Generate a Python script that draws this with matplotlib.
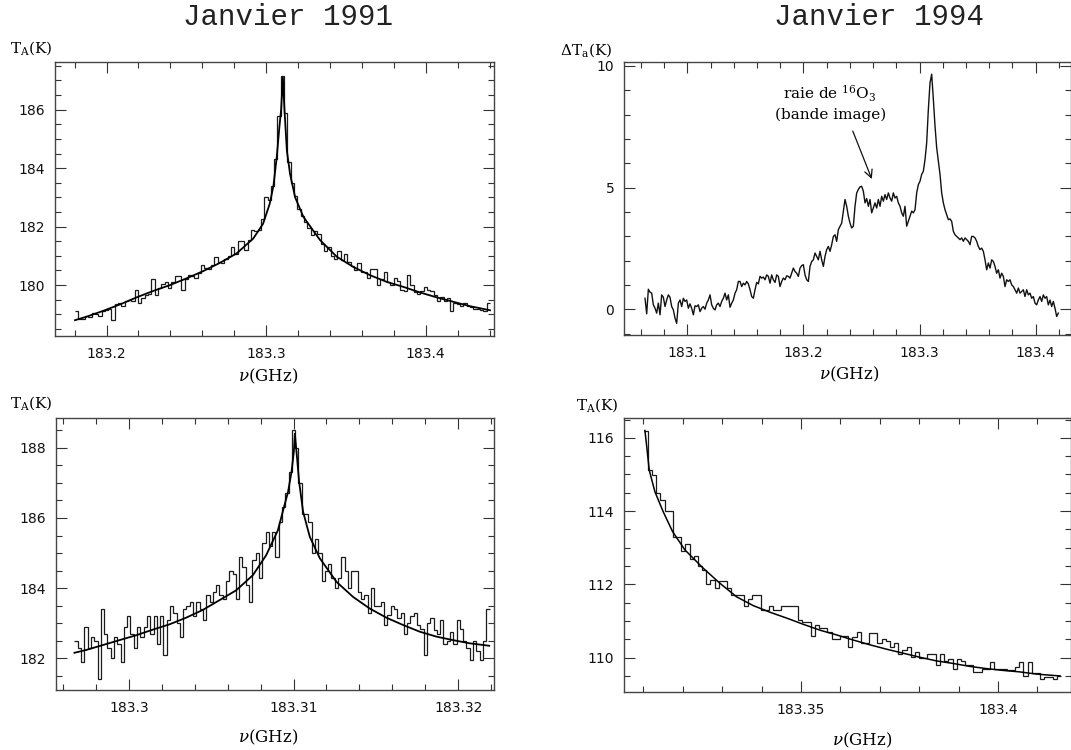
import numpy as np
import matplotlib
matplotlib.use("Agg")
import matplotlib.pyplot as plt
from matplotlib.ticker import MultipleLocator, FuncFormatter

plt.rcParams['font.family'] = 'DejaVu Serif'
plt.rcParams['mathtext.fontset'] = 'dejavuserif'

# ---- Janvier 1991, large band (step spectrum + fit) ----
tl_edges_range = (183.1802, 183.4403)
tl_values = [
    179.1, 178.85, 178.85, 178.95, 178.9, 179.05, 179.0, 178.95, 179.1, 179.15,
    179.2, 178.8, 179.35, 179.4, 179.3, 179.45, 179.5, 179.45, 179.85, 179.4,
    179.55, 179.65, 179.7, 180.2, 179.65, 179.9, 180.05, 180.1, 179.9, 180.1,
    180.3, 180.3, 179.85, 180.2, 180.35, 180.3, 180.25, 180.4, 180.7, 180.6,
    180.55, 180.7, 180.95, 180.8, 180.75, 180.9, 181.0, 181.3, 181.05, 181.5,
    181.5, 181.2, 181.55, 181.9, 181.85, 181.9, 182.25, 183.0, 182.9, 183.4,
    184.3, 185.8, 187.15, 185.9, 184.2, 183.5, 183.05, 182.6, 182.35, 182.15,
    181.95, 181.7, 181.85, 181.75, 181.4, 181.15, 181.3, 181.0, 180.9, 181.15,
    180.85, 181.05, 180.8, 180.65, 180.5, 180.75, 180.45, 180.45, 180.25, 180.55,
    180.55, 180.0, 180.2, 180.45, 180.1, 180.0, 180.25, 180.15, 179.85, 179.8,
    180.35, 180.0, 179.75, 179.7, 179.8, 179.95, 179.85, 179.8, 179.65, 179.45,
    179.6, 179.45, 179.55, 179.1, 179.4, 179.35, 179.3, 179.4, 179.3, 179.25,
    179.2, 179.2, 179.15, 179.1, 179.4,
]
tl_fit_freq = [183.1802, 183.1875, 183.1979, 183.2084, 183.2188, 183.2292, 183.2397,
               183.2501, 183.2606, 183.2710, 183.2814, 183.2919, 183.2981, 183.3023,
               183.3046, 183.3067, 183.3083, 183.3094, 183.3105, 183.3115, 183.3130,
               183.3150, 183.3182, 183.3234, 183.3338, 183.3443, 183.3547, 183.3651,
               183.3756, 183.3860, 183.3964, 183.4069, 183.4173, 183.4277, 183.4403]
tl_fit_temp = [178.80, 178.92, 179.12, 179.34, 179.58, 179.80, 180.0,
               180.23, 180.48, 180.76, 181.08, 181.59, 182.10, 182.79,
               183.4, 184.4, 185.4, 186.0, 187.1, 186.0, 184.6,
               183.8, 183.0, 182.33, 181.54, 180.97, 180.62, 180.34,
               180.11, 179.94, 179.75, 179.58, 179.43, 179.28, 179.14]

# ---- Janvier 1994, difference spectrum ----
tr_freq_range = (183.0636, 183.4195)
tr_values_a = [
    0.45, -0.19, 0.82, 0.70, 0.66, 0.18, 0.04, -0.16, 0.25, -0.23,
    0.59, 0.49, 0.11, 0.38, 0.59, 0.49, 0.11, -0.03, -0.37, -0.58,
    0.25, 0.38, 0.11, 0.45, 0.32, 0.38, 0.04, 0.22, 0.04, -0.23,
    0.14, 0.11, 0.18, -0.10, 0.04, 0.11, 0.00, 0.25, 0.38, 0.59,
    0.18, 0.04, -0.03, 0.18, 0.25, 0.11, 0.32, 0.45, 0.66, 0.38,
    0.59, 0.08, 0.25, 0.38, 0.66, 0.80, 1.14, 1.14, 0.93, 1.07,
    1.00, 1.14, 1.04, 0.80, 0.52, 0.45, 0.80, 1.10, 1.04, 1.35,
    1.28, 1.32, 1.21, 1.41, 1.35, 1.07, 1.41, 1.21, 1.10, 1.41,
    1.35, 0.93, 1.14, 1.28, 1.21, 1.37, 1.35, 1.28, 1.48, 1.69,
    1.55, 1.48, 1.35, 1.69, 1.79, 1.83, 1.41, 1.21, 1.14, 1.76,
    1.96, 2.03, 2.31, 2.17, 2.03, 2.38, 2.03, 1.76, 2.17, 2.45,
    2.58, 2.38, 2.65, 2.99, 3.06, 2.79, 3.27,
]
tr_values_b = [
    3.41, 3.54, 4.03, 4.51, 4.23, 3.82, 3.54, 3.34, 3.41, 4.23,
    4.78, 4.92, 5.03, 5.05, 4.85, 4.37, 4.55, 4.23, 4.51, 3.96,
    4.16, 4.37, 4.16, 4.51, 4.23, 4.64, 4.44, 4.71, 4.51, 4.78,
    4.57, 4.44, 4.78, 4.57, 4.64, 4.37, 4.23, 3.96, 3.82, 4.23,
    3.41, 3.61, 3.82, 4.03, 3.96, 4.09, 4.78, 5.12, 5.26, 5.54,
    5.67, 6.15, 6.84, 8.21, 9.3, 9.66, 8.63, 7.53, 6.64, 6.09,
    5.54, 4.78, 4.37, 4.09, 3.89, 3.68, 3.71, 3.61, 3.20, 3.06,
    2.99, 2.93, 2.86, 2.93, 2.79, 2.93, 2.86, 2.79, 2.65, 2.99,
    2.99, 2.93, 2.79, 2.58, 2.45, 2.51, 2.38, 2.03, 1.62, 1.90,
    1.69, 2.03, 1.96, 1.76, 1.48, 1.62, 1.28, 1.48, 1.35, 0.93,
    1.21, 1.14, 1.21, 1.00, 0.93, 0.80, 0.66, 0.87, 0.66, 0.73,
    0.80, 0.52, 0.80, 0.59, 0.66, 0.45, 0.52, 0.25, 0.18, 0.38,
    0.52, 0.32, 0.59, 0.45, 0.52, 0.18, 0.38, 0.11, 0.32, 0.04,
    -0.30, -0.16,
]

# ---- Janvier 1991, narrow band ----
bl_edges_range = (183.2967, 183.3219)
bl_values = [
    182.5, 182.3, 181.9, 182.9, 182.3, 182.6, 182.5, 181.4, 183.4, 182.7,
    182.3, 182.0, 182.6, 182.4, 181.9, 182.9, 183.2, 182.7, 182.3, 182.9,
    182.6, 182.9, 183.2, 182.7, 183.2, 182.4, 183.2, 182.1, 183.1, 183.5,
    183.3, 183.0, 182.6, 183.4, 183.5, 183.6, 183.2, 183.6, 183.4, 183.1,
    183.8, 183.6, 183.9, 184.1, 183.8, 183.7, 184.2, 184.5, 184.4, 183.7,
    184.9, 184.6, 184.1, 183.6, 184.8, 185.0, 184.3, 185.3, 185.6, 185.2,
    185.6, 184.9, 185.9, 186.3, 186.7, 187.3, 188.5, 188.0, 187.0, 186.1,
    186.1, 185.9, 185.0, 185.4, 185.0, 184.2, 184.5, 184.7, 184.3, 184.0,
    184.3, 184.9, 184.5, 184.0, 184.5, 184.5, 183.9, 183.7, 183.8, 183.3,
    184.0, 183.5, 183.5, 183.6, 182.95, 183.25, 183.5, 183.4, 183.15, 183.3,
    182.7, 183.0, 183.2, 183.3, 182.95, 182.85, 182.1, 183.0, 183.15, 182.8,
    182.7, 183.1, 182.4, 182.5, 182.75, 182.4, 183.1, 182.85, 182.5, 182.3,
    181.95, 182.5, 182.2, 181.95, 182.5, 183.4,
]
bl_fit_freq = [183.29670, 183.29741, 183.29842, 183.29943, 183.30045, 183.30146,
               183.30247, 183.30348, 183.30449, 183.30551, 183.30652, 183.30753,
               183.30834, 183.30905, 183.30937, 183.30967, 183.30988, 183.31002,
               183.31008, 183.31018, 183.31034, 183.31058, 183.31099, 183.31160,
               183.31261, 183.31362, 183.31463, 183.31564, 183.31666, 183.31767,
               183.31868, 183.31969, 183.32070, 183.32188]
bl_fit_temp = [182.16, 182.24, 182.38, 182.52, 182.66, 182.82,
               182.97, 183.16, 183.38, 183.66, 183.94, 184.37,
               184.94, 185.65, 186.22, 186.75, 187.32, 187.89,
               188.40, 187.89, 187.03, 186.18, 185.46, 184.85,
               184.18, 183.75, 183.42, 183.16, 182.95, 182.76,
               182.62, 182.52, 182.43, 182.36]

# ---- Janvier 1994, wing ----
br_edges_range = (183.3101, 183.4160)
br_values = [
    116.2, 115.12, 114.98, 114.5, 114.3, 114.0, 114.0, 113.3, 113.3, 112.9,
    113.1, 112.7, 112.78, 112.5, 112.4, 112.0, 112.13, 111.9, 112.1, 112.1,
    111.9, 111.7, 111.7, 111.7, 111.4, 111.6, 111.7, 111.7, 111.3, 111.3,
    111.4, 111.3, 111.3, 111.4, 111.4, 111.4, 111.4, 111.03, 110.98, 110.98,
    110.6, 110.9, 110.8, 110.8, 110.7, 110.5, 110.5, 110.6, 110.6, 110.3,
    110.55, 110.7, 110.4, 110.4, 110.67, 110.67, 110.4, 110.5, 110.45, 110.28,
    110.4, 110.1, 110.2, 110.3, 110.03, 110.16, 110.0, 110.0, 110.1, 110.1,
    109.8, 110.1, 109.9, 109.95, 109.7, 109.96, 109.9, 109.8, 109.8, 109.6,
    109.6, 109.7, 109.7, 109.87, 109.7, 109.7, 109.7, 109.66, 109.66, 109.75,
    109.87, 109.5, 109.87, 109.57, 109.57, 109.42, 109.48, 109.48, 109.42, 109.5,
]
br_fit_freq = [183.31041, 183.31083, 183.31150, 183.31294, 183.31506, 183.31743,
               183.32056, 183.32521, 183.32944, 183.33367, 183.33790, 183.34213,
               183.34636, 183.35059, 183.35482, 183.35905, 183.36328, 183.36751,
               183.37174, 183.37597, 183.38020, 183.38443, 183.38866, 183.39289,
               183.39712, 183.40135, 183.40558, 183.40981, 183.41574]
br_fit_temp = [116.2, 115.8, 115.12, 114.53, 113.98, 113.44,
               112.94, 112.44, 112.03, 111.66, 111.42, 111.24,
               111.08, 110.91, 110.75, 110.62, 110.48, 110.35,
               110.23, 110.12, 110.01, 109.91, 109.84, 109.76,
               109.70, 109.65, 109.61, 109.55, 109.5]

W, H = 1071, 750
fig = plt.figure(figsize=(W / 100, H / 100), dpi=100)


def px_axes(left, right, top, bottom):
    return fig.add_axes([left / W, 1 - bottom / H, (right - left) / W, (bottom - top) / H])


fmt = FuncFormatter(lambda v, p: f'{v:g}')


def style(ax, xmaj, xmin, ymaj, ymin):
    ax.xaxis.set_major_locator(MultipleLocator(xmaj))
    ax.xaxis.set_minor_locator(MultipleLocator(xmin))
    ax.yaxis.set_major_locator(MultipleLocator(ymaj))
    ax.yaxis.set_minor_locator(MultipleLocator(ymin))
    ax.xaxis.set_major_formatter(fmt)
    ax.yaxis.set_major_formatter(fmt)
    ax.tick_params(which='both', direction='in', top=True, right=True,
                   color='#333333', width=0.8, labelsize=10,
                   labelfontfamily='DejaVu Sans', labelcolor='#111111')
    ax.tick_params(which='major', length=8)
    ax.tick_params(which='minor', length=4)
    ax.tick_params(axis='x', pad=8)
    ax.tick_params(axis='y', pad=7)
    for s in ax.spines.values():
        s.set_linewidth(1.0)
        s.set_color('#444444')


line_kw = dict(color='#1a1a1a', lw=0.9)
fit_kw = dict(color='#000000', lw=1.3)

# top-left
ax1 = px_axes(55, 494, 62, 336)
ax1.stairs(tl_values, np.linspace(*tl_edges_range, len(tl_values) + 1), baseline=None, **line_kw)
ax1.plot(tl_fit_freq, tl_fit_temp, **fit_kw)
ax1.set_xlim(183.1677, 183.4428)
ax1.set_ylim(178.26, 187.63)
style(ax1, 0.1, 0.02, 2, 0.5)

# top-right
ax2 = px_axes(624, 1071, 62, 335)
tr_values = tr_values_a + tr_values_b
ax2.plot(np.linspace(*tr_freq_range, len(tr_values)), tr_values, color='#111111', lw=1.0)
ax2.set_xlim(183.0455, 183.4304)
ax2.set_ylim(-1.06, 10.16)
style(ax2, 0.1, 0.02, 5, 1)
ax2.text(183.223, 8.84, r'raie de $^{16}$O$_3$', ha='center', va='center', fontsize=11)
ax2.text(183.223, 8.00, '(bande image)', ha='center', va='center', fontsize=11)
ax2.annotate('', xy=(183.2589, 5.35), xytext=(183.2425, 7.32),
             arrowprops=dict(arrowstyle='->', lw=0.9, color='#111111',
                             shrinkA=0, shrinkB=0, mutation_scale=14))

# bottom-left
ax3 = px_axes(55.5, 494, 418.3, 690)
ax3.stairs(bl_values, np.linspace(*bl_edges_range, len(bl_values) + 1), baseline=None, **line_kw)
ax3.plot(bl_fit_freq, bl_fit_temp, **fit_kw)
ax3.set_xlim(183.29555, 183.32217)
ax3.set_ylim(181.10, 188.84)
style(ax3, 0.01, 0.002, 2, 0.5)

# bottom-right
ax4 = px_axes(624, 1070.5, 417.7, 691.7)
ax4.stairs(br_values, np.linspace(*br_edges_range, len(br_values) + 1), baseline=None, **line_kw)
ax4.plot(br_fit_freq, br_fit_temp, color='#000000', lw=1.1)
ax4.set_xlim(183.3051, 183.4184)
ax4.set_ylim(109.07, 116.55)
style(ax4, 0.05, 0.01, 2, 0.5)

# titles and labels
fig.text(288 / W, 1 - 17 / H, 'Janvier 1991', ha='center', va='center', fontsize=21,
         family='Liberation Mono', color='#222222')
fig.text(879 / W, 1 - 17 / H, 'Janvier 1994', ha='center', va='center', fontsize=21,
         family='Liberation Mono', color='#222222')

fig.text(31 / W, 1 - 48 / H, r'$\mathrm{T_A(K)}$', ha='center', va='center', fontsize=11)
fig.text(586 / W, 1 - 50 / H, r'$\mathrm{\Delta T_a(K)}$', ha='center', va='center', fontsize=11)
fig.text(31 / W, 1 - 403 / H, r'$\mathrm{T_A(K)}$', ha='center', va='center', fontsize=11)
fig.text(597 / W, 1 - 405 / H, r'$\mathrm{T_A(K)}$', ha='center', va='center', fontsize=11)

fig.text(268 / W, 1 - 376 / H, r'$\nu$(GHz)', ha='center', va='center', fontsize=12)
fig.text(849 / W, 1 - 374 / H, r'$\nu$(GHz)', ha='center', va='center', fontsize=12)
fig.text(268 / W, 1 - 737 / H, r'$\nu$(GHz)', ha='center', va='center', fontsize=12)
fig.text(862 / W, 1 - 740 / H, r'$\nu$(GHz)', ha='center', va='center', fontsize=12)

fig.savefig('out.png', dpi=100)
